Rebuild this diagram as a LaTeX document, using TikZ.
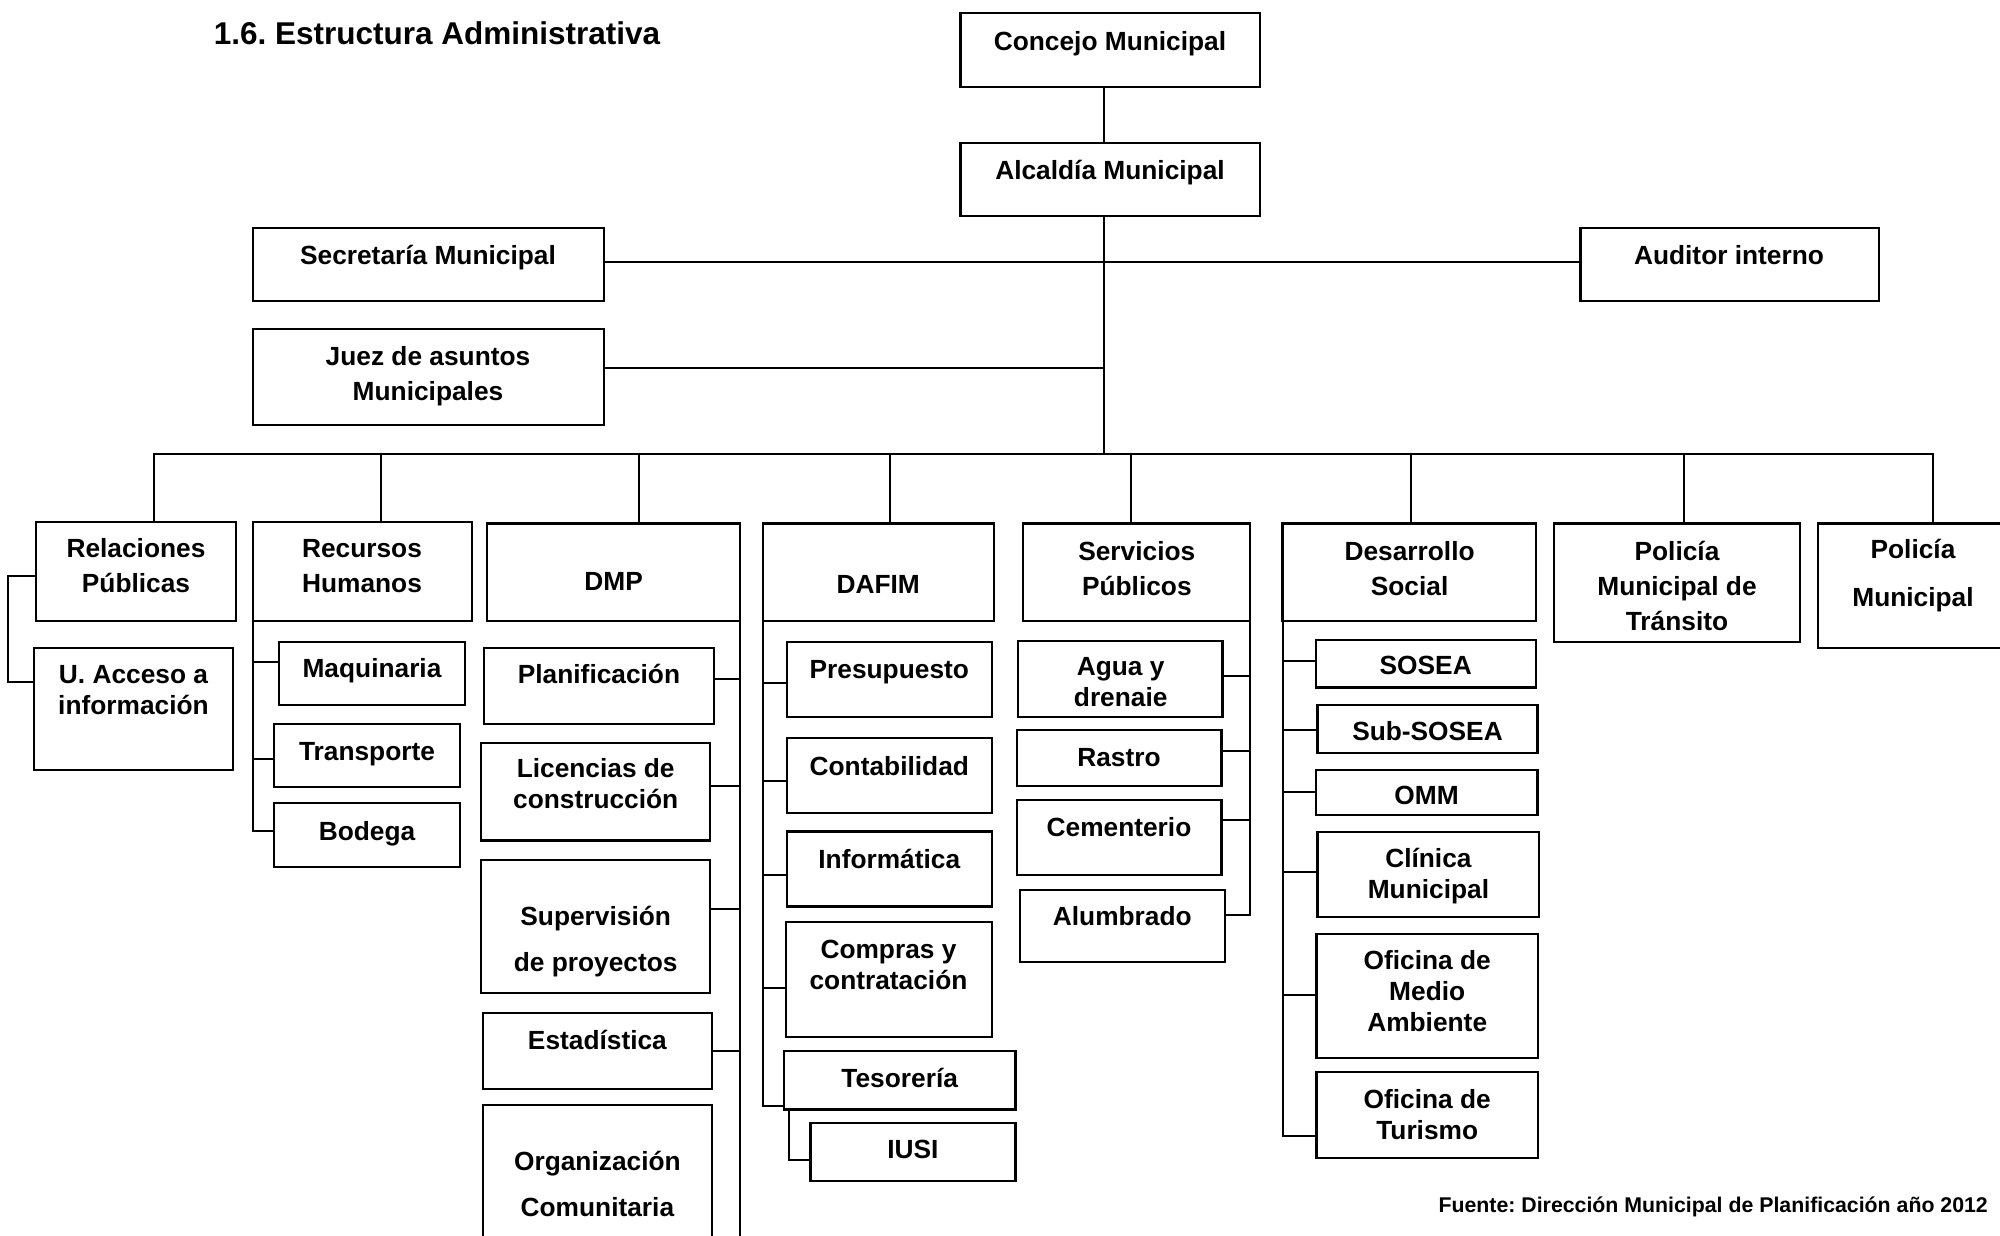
\documentclass[tikz,border=0pt]{standalone}
\usepackage{fontspec}
\setmainfont{Liberation Sans}
\frenchspacing
\newcommand{\ms}{\rule[-0.22em]{0pt}{1.16em}}
\newcommand{\bx}[5]{\node[bx, minimum width={(#4-#2)*1pt}, minimum height={(#5-#3)*1pt}] (#1) at ({(#2+#4)/2},{(#3+#5)/2}) {};}
\newcommand{\brL}[3]{\draw[ln] (#1) |- (#2.west |- 0,#3);}
\newcommand{\brR}[3]{\draw[ln] (#1) |- (#2.east |- 0,#3);}
\tikzset{
 bx/.style={draw, line width=2.2pt, inner sep=0pt, outer sep=0pt},
 ln/.style={line width=2pt},
 tA/.style={inner sep=0pt, align=center, font=\bfseries\fontsize{26.3}{30.8}\selectfont},
 tB/.style={tA, font=\bfseries\fontsize{26.3}{35}\selectfont},
 tC/.style={tA, font=\bfseries\fontsize{26.3}{46}\selectfont},
 tD/.style={tA, font=\bfseries\fontsize{26.3}{48}\selectfont},
}
\begin{document}
\begin{tikzpicture}[x=1pt,y=-1pt]
\clip (0,0) rectangle (2000,1235);
\fill[white] (0,0) rectangle (2000,1235);
% title and source
\node[inner sep=0pt, anchor=west, font=\bfseries\fontsize{31.5}{36}\selectfont] (title) at (213.6,33.3) {\ms 1.6. Estructura Administrativa};
\node[inner sep=0pt, anchor=east, font=\bfseries\fontsize{21.3}{25}\selectfont] (src) at (1988,1205) {\ms Fuente: Dirección Municipal de Planificación año 2012};
% top boxes
\bx{cm}{960.5}{12.7}{1259.6}{86.7}
\bx{am}{960.5}{142.7}{1259.6}{216}
\bx{sec}{253.2}{227.7}{604}{301}
\bx{aud}{1580.4}{227.7}{1878.8}{301}
\bx{juez}{253.2}{329}{604}{425}
% second row
\bx{rp}{36}{522}{236}{621}
\bx{ua}{34}{648}{233}{770}
\bx{rh}{253}{522}{472}{621}
\bx{maq}{279}{642}{465}{705}
\bx{trans}{274}{724}{460}{787}
\bx{bod}{274}{803}{460}{867}
\bx{dmp}{486.8}{523.4}{739.6}{621}
\bx{plan}{484.3}{648}{713.6}{723.6}
\bx{lic}{481}{742.9}{710}{840.4}
\bx{sup}{481}{859.6}{710}{993.2}
\bx{est}{482.9}{1012.9}{711.8}{1088.8}
\bx{org}{482.9}{1104.8}{711.8}{1280}
\bx{dafim}{762.9}{523.4}{994.3}{621}
\bx{pres}{786.8}{641.6}{991.8}{717}
\bx{cont}{786.8}{738.2}{991.8}{813.2}
\bx{inf}{786.8}{831.5}{991.8}{906.5}
\bx{comp}{785.7}{922}{991.8}{1036.8}
\bx{tes}{784}{1050.9}{1015.4}{1109.5}
\bx{iusi}{810.4}{1123}{1015.4}{1181.2}
\bx{sp}{1023.2}{523.4}{1250}{621}
\bx{agua}{1017.9}{640.6}{1222.5}{717}
\bx{rastro}{1016.8}{729.7}{1221.4}{786}
\bx{cem}{1016.8}{800}{1221.4}{875}
\bx{alum}{1019.6}{889.6}{1225}{961.8}
\bx{ds}{1282.5}{523.4}{1535.7}{621}
\bx{sosea}{1315.7}{639.7}{1535.7}{687.5}
\bx{subs}{1317.5}{704.9}{1537.5}{753.2}
\bx{omm}{1315.7}{770}{1537.5}{814.6}
\bx{clin}{1317.5}{832}{1539.3}{917.3}
\bx{oma}{1316.4}{934.1}{1537.9}{1057.9}
\bx{otur}{1316.4}{1072}{1537.9}{1157.8}
\bx{pmt}{1553.8}{523.4}{1800.2}{641.6}
\bx{pm}{1818}{523.4}{2010}{648.1}
% texts
\node[tA] (cmt) at (1110,40.7) {\ms Concejo Municipal};
\node[tA] (amt) at (1110,170) {\ms Alcaldía Municipal};
\node[tA] (sect) at (428,255) {\ms Secretaría Municipal};
\node[tA] (audt) at (1729,255) {\ms Auditor interno};
\node[tB] (juezt) at (428,373.4) {\ms Juez de asuntos\\\ms Municipales};
\node[tB] (rpt) at (136,565.5) {\ms Relaciones\\\ms Públicas};
\node[tA] (uat) at (133.5,689.9) {\ms U. Acceso a\\\ms información};
\node[tB] (rht) at (362,565.5) {\ms Recursos\\\ms Humanos};
\node[tA] (maqt) at (372,668) {\ms Maquinaria};
\node[tA] (transt) at (367,751) {\ms Transporte};
\node[tA] (bodt) at (367,831) {\ms Bodega};
\node[tA] (dmpt) at (613.6,580.6) {\ms DMP};
\node[tA] (plant) at (599,674.4) {\ms Planificación};
\node[tA] (lict) at (595.7,783.8) {\ms Licencias de\\\ms construcción};
\node[tC] (supt) at (595.7,938.8) {\ms Supervisión\\\ms de proyectos};
\node[tA] (estt) at (597.4,1040) {\ms Estadística};
\node[tC] (orgt) at (597.4,1184.5) {\ms Organización\\\ms Comunitaria};
\node[tA] (dafimt) at (878.2,584.4) {\ms DAFIM};
\node[tA] (prest) at (889.3,668.8) {\ms Presupuesto};
\node[tA] (contt) at (889.3,765.8) {\ms Contabilidad};
\node[tA] (inft) at (889.3,859.1) {\ms Informática};
\node[tA] (compt) at (888.5,964.2) {\ms Compras y\\\ms contratación};
\node[tA] (test) at (899.7,1077.6) {\ms Tesorería};
\node[tA] (iusit) at (912.9,1149.3) {\ms IUSI};
\node[tB] (spt) at (1136.8,568.2) {\ms Servicios\\\ms Públicos};
\node[tA] (aguat) at (1120.7,681.7) {\ms Agua y\\\ms drenaie};
\node[tA] (rastrot) at (1119,756.9) {\ms Rastro};
\node[tA] (cemt) at (1119,826.8) {\ms Cementerio};
\node[tA] (alumt) at (1122.3,916.3) {\ms Alumbrado};
\node[tB] (dst) at (1409.6,568.2) {\ms Desarrollo\\\ms Social};
\node[tA] (soseat) at (1425.7,665) {\ms SOSEA};
\node[tA] (subst) at (1427.5,730.7) {\ms Sub-SOSEA};
\node[tA] (ommt) at (1426.6,795.4) {\ms OMM};
\node[tA] (clint) at (1428.4,873.4) {\ms Clínica\\\ms Municipal};
\node[tA] (omat) at (1427.2,991) {\ms Oficina de\\\ms Medio\\\ms Ambiente};
\node[tA] (oturt) at (1427.2,1114.2) {\ms Oficina de\\\ms Turismo};
\node[tB] (pmtt) at (1677,586.1) {\ms Policía\\\ms Municipal de\\\ms Tránsito};
\node[tD] (pmt2) at (1913,573.4) {\ms Policía\\\ms Municipal};
% connectors top
\coordinate (tk) at (1104,454);
\draw[ln] (cm.south -| tk) -- (am.north -| tk);
\draw[ln] (am.south -| tk) -- (tk);
\draw[ln] (sec.east |- 0,261.7) -- (aud.west |- 0,261.7);
\draw[ln] (juez.east |- 0,368.3) -- (tk |- 0,368.3);
% bus and drops
\draw[ln] (rp.north -| 153.7,0) -- (153.7,454) -- (1933,454) -- (pm.north -| 1933,0);
\draw[ln] (rh.north -| 381.4,0) -- (381.4,454);
\draw[ln] (dmp.north -| 639,0) -- (639,454);
\draw[ln] (dafim.north -| 889.7,0) -- (889.7,454);
\draw[ln] (sp.north -| 1130.7,0) -- (1130.7,454);
\draw[ln] (ds.north -| 1411,0) -- (1411,454);
\draw[ln] (pmt.north -| 1684,0) -- (1684,454);
% Relaciones Publicas
\draw[ln] (rp.west |- 0,576) -| (8.3,681.7) -- (ua.west |- 0,681.7);
% Recursos Humanos
\brL{rh.south west}{maq}{661.7}
\brL{rh.south west}{trans}{759}
\brL{rh.south west}{bod}{831}
% DMP
\draw[ln] (dmp.south east) -- ++(0,640);
\brR{dmp.south east}{plan}{678.6}
\brR{dmp.south east}{lic}{785.5}
\brR{dmp.south east}{sup}{909.3}
\brR{dmp.south east}{est}{1050.9}
% DAFIM
\brL{dafim.south west}{pres}{682.8}
\brL{dafim.south west}{cont}{781.3}
\brL{dafim.south west}{inf}{875}
\brL{dafim.south west}{comp}{987.6}
\brL{dafim.south west}{tes}{1105.7}
\draw[ln] (tes.south -| 789,0) |- (iusi.west |- 0,1160);
% Servicios Publicos
\brR{sp.south east}{agua}{675.8}
\brR{sp.south east}{rastro}{751.3}
\brR{sp.south east}{cem}{820.2}
\brR{sp.south east}{alum}{914.9}
% Desarrollo Social
\brL{ds.south west}{sosea}{660.8}
\brL{ds.south west}{subs}{729.7}
\brL{ds.south west}{omm}{791.6}
\brL{ds.south west}{clin}{871.8}
\brL{ds.south west}{oma}{994.6}
\brL{ds.south west}{otur}{1135.7}
\end{tikzpicture}
\end{document}
